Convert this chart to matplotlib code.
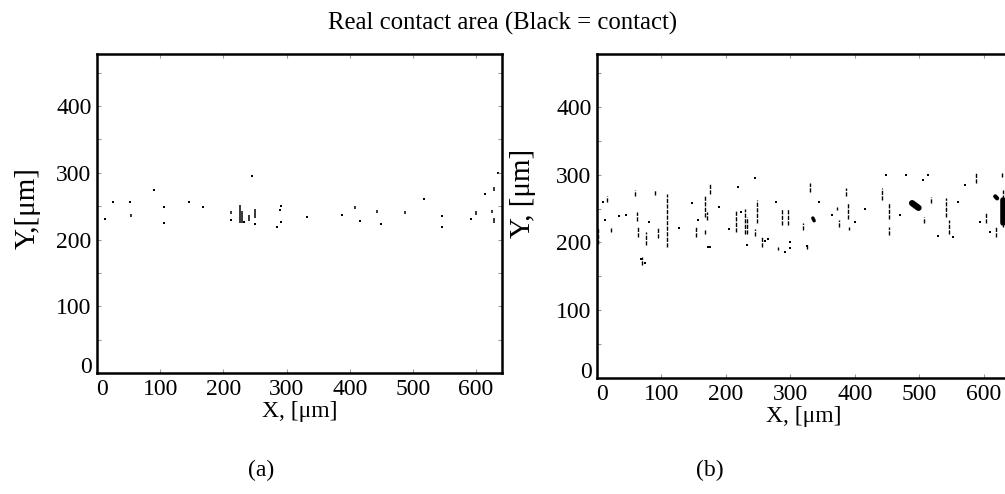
import matplotlib
matplotlib.use("Agg")
import matplotlib.pyplot as plt
import matplotlib.transforms as mtransforms
from matplotlib.ticker import MultipleLocator

plt.rcParams['font.family'] = ['Liberation Serif', 'DejaVu Serif']

# ---------------- data: contact patches (x, y_start, y_end) in um ----------------
# Panel (a): sparse contact
a_seg_x = [54, 226, 229, 240, 250, 409, 443, 488, 600, 625.6, 628, 629, 212]
a_seg_y0 = [234, 225, 225, 228, 232, 245, 240, 238, 237, 240, 225, 272, 238]
a_seg_y1 = [238, 252, 242, 236, 246, 250, 244, 243, 242, 244, 232, 278, 243]
a_dot_x = [12.6, 24.8, 52, 89.5, 106, 106, 146, 168, 212, 245, 250, 285, 290, 291,
           291, 333, 387.5, 416, 450, 517, 545.5, 545.5, 592, 614, 635, 233]
a_dot_y = [230, 256, 256, 274, 249, 224, 256, 248, 229.5, 295, 223, 219, 244, 250,
           226, 233, 237, 227, 223, 260, 235, 218.5, 230, 268, 300, 226]

# Panel (b): denser contact (vertical streaks)
b_seg_x = [2, 16, 22, 59, 61.6, 64, 76, 90, 95, 108, 154, 167, 170, 175, 167,
           215, 230, 233, 249, 256, 287, 281, 320, 326, 330.7, 373, 375, 387, 390,
           391, 443, 453, 453, 508, 519, 542, 547, 588, 603, 620, 628, 629.6, 70,
           297, 245]
b_seg_y0 = [198, 260, 216, 268, 231, 208, 196, 270, 206, 194, 208, 238, 233, 272, 213,
            216, 213, 213, 228, 194, 226, 189, 219, 190, 275, 248, 223, 268, 235,
            218, 263, 235, 211, 228, 258, 238, 213, 287, 228, 208, 297, 223, 167,
            225, 210]
b_seg_y1 = [222, 268, 221, 278, 245, 223, 216, 278, 223, 272, 223, 268, 245, 287, 218,
            248, 250, 238, 262, 208, 250, 194, 228, 196, 287, 253, 233, 280, 258,
            223, 280, 258, 223, 238, 267, 265, 233, 302, 243, 223, 302, 277, 179,
            250, 220]
b_dot_x = [12.4, 34.7, 148, 157, 190, 218.5, 223.5, 245, 278, 336, 416, 449, 506,
           513, 553, 571, 595, 619, 173, 176, 233, 326, 10, 45, 80, 128, 205, 265,
           300, 345, 365, 400, 470, 480, 530, 560, 610, 68, 74, 292, 300, 260]
b_dot_y = [233, 239, 258, 233, 252, 282, 245, 295, 259, 234, 250, 300, 292, 300,
           208, 284, 230, 266, 194, 194, 196, 195, 260, 240, 230, 222, 220, 205,
           200, 260, 240, 230, 240, 300, 210, 260, 215, 175, 170, 186, 192, 202]
# large patches (x0, y0, x1, y1)
b_blob_x0 = [489, 630, 335, 618]
b_blob_y0 = [258, 228, 236, 268]
b_blob_x1 = [499, 630, 337, 621]
b_blob_y1 = [251, 262, 232, 265]
b_blob_w = [4.5, 4, 2.5, 3]

x_ticks = [0, 100, 200, 300, 400, 500, 600]
y_ticks = [0, 100, 200, 300, 400]

title = "Real contact area (Black = contact)"

fig = plt.figure(figsize=(10.05, 4.94), dpi=100)
ax_a = fig.add_axes([0.0965, 0.245, 0.403, 0.6457])
ax_b = fig.add_axes([0.594, 0.2348, 0.411, 0.6559])

FS = 17


def style(ax, ylabel, lab_x, lab_y):
    ax.set_xlim(0, 641)
    ax.set_ylim(0, 478)
    ax.set_xticks(x_ticks)
    ax.set_yticks(y_ticks)
    ax.yaxis.set_minor_locator(MultipleLocator(50))
    ax.tick_params(which='both', direction='in', top=True, right=True,
                   length=3, width=0.8, color='#999999', labelsize=FS,
                   labelcolor='black', pad=4)
    for sp in ax.spines.values():
        sp.set_linewidth(1.8)
        sp.set_color('black')
    ax.set_xlabel("X, [μm]", fontsize=FS, labelpad=1)
    ax.set_ylabel(ylabel, fontsize=21)
    ax.yaxis.label.set_va('center')
    ax.yaxis.label.set_ha('center')
    ax.yaxis.set_label_coords(lab_x, lab_y)
    # raise the "0" y label slightly as in the reference
    lab = ax.get_yticklabels()[0]
    lab.set_transform(lab.get_transform() +
                      mtransforms.ScaledTranslation(0, 8 / 100, fig.dpi_scale_trans))
    labx = ax.get_xticklabels()[0]
    labx.set_transform(labx.get_transform() +
                       mtransforms.ScaledTranslation(5 / 100, 0, fig.dpi_scale_trans))


ax_a.vlines(a_seg_x, a_seg_y0, a_seg_y1, colors='black', linewidth=1.1)
ax_a.scatter(a_dot_x, a_dot_y, s=2.2, marker='s', color='black', linewidths=0)
style(ax_a, "Y,[μm]", -0.172, 0.517)

ax_b.vlines(b_seg_x, b_seg_y0, b_seg_y1, colors='black', linewidth=1.0,
            linestyles=(0, (3, 1)))
ax_b.scatter(b_dot_x, b_dot_y, s=2.2, marker='s', color='black', linewidths=0)
for x0, y0, x1, y1, w in zip(b_blob_x0, b_blob_y0, b_blob_x1, b_blob_y1, b_blob_w):
    ax_b.plot([x0, x1], [y0, y1], color='black', linewidth=w, solid_capstyle='round')
style(ax_b, "Y, [μm]", -0.179, 0.571)

fig.text(0.500, 0.953, title, ha='center', va='center', fontsize=17.8)
fig.text(0.26, 0.048, "(a)", ha='center', va='center', fontsize=FS)
fig.text(0.706, 0.048, "(b)", ha='center', va='center', fontsize=FS)

fig.savefig("out.png", dpi=100)
